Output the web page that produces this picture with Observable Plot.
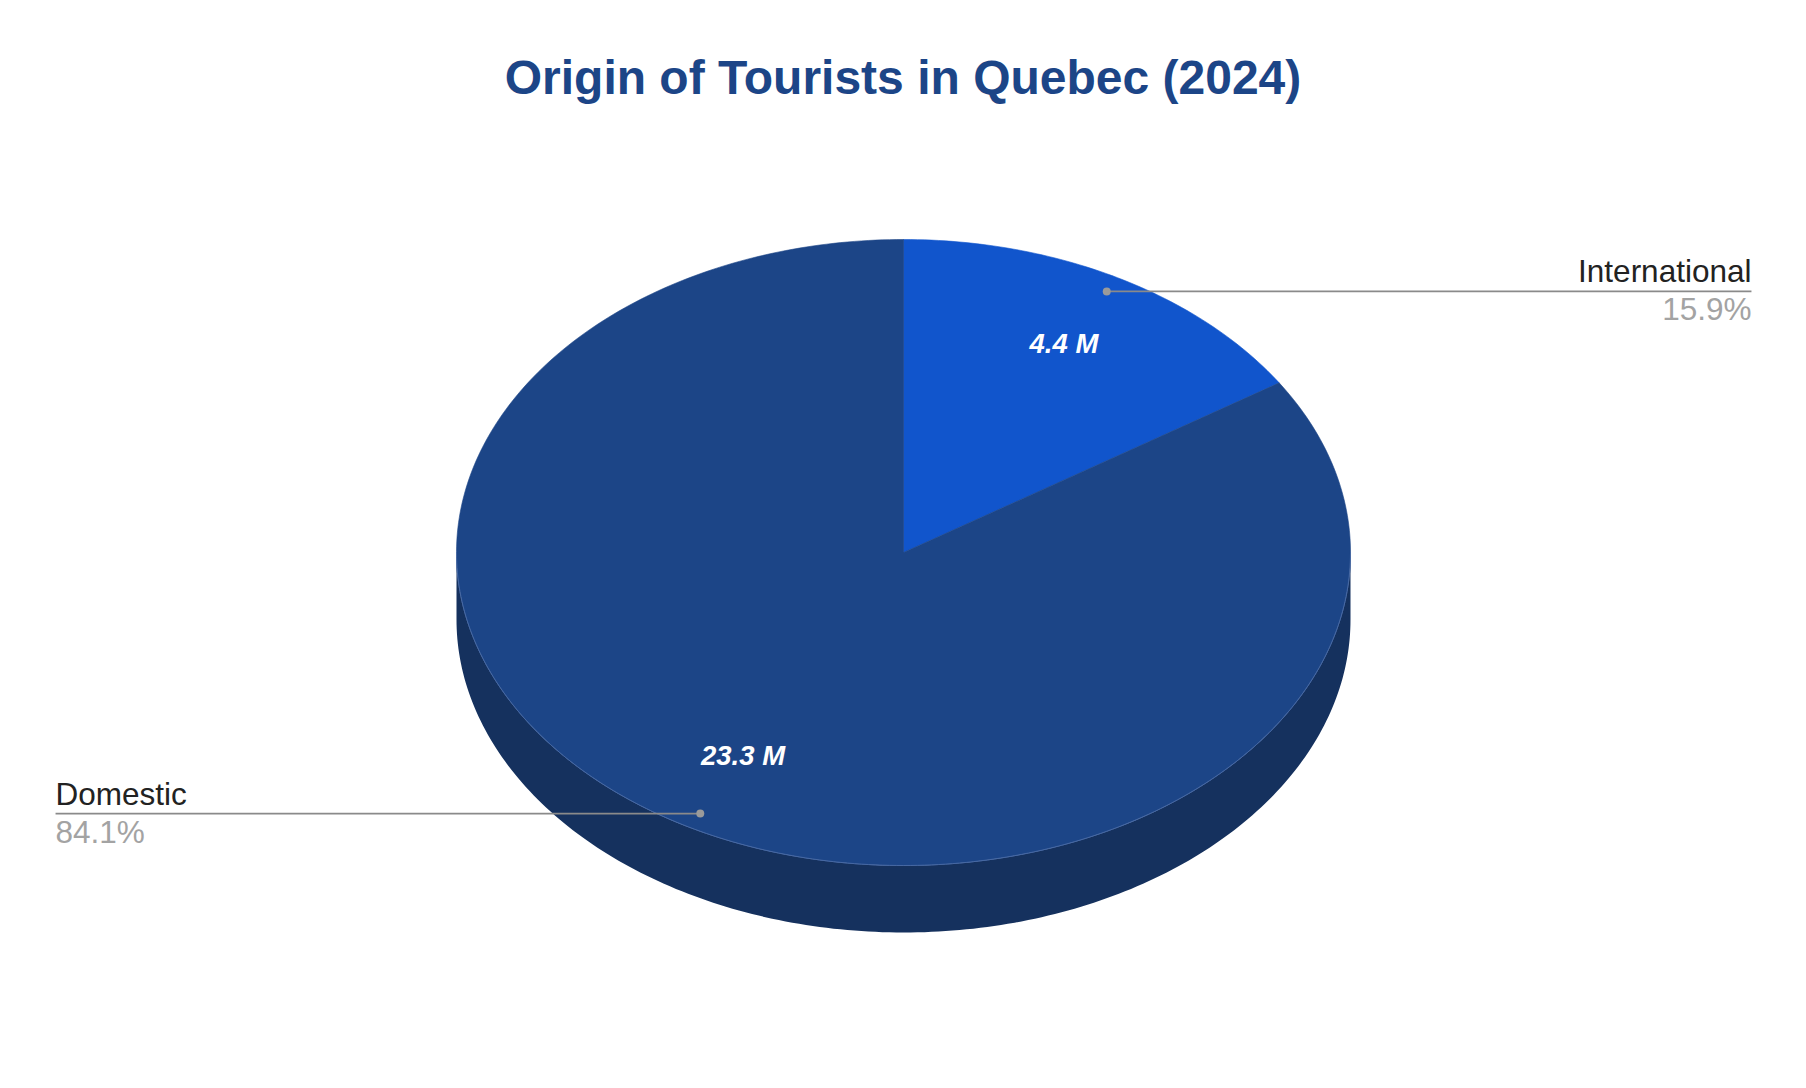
<!DOCTYPE html>
<html>
<head>
<meta charset="utf-8">
<script src="https://cdn.jsdelivr.net/npm/d3@7"></script>
<script src="https://cdn.jsdelivr.net/npm/@observablehq/plot@0.6"></script>
<style>
  html, body { margin: 0; padding: 0; background: #fff; }
  body { width: 1806px; height: 1088px; overflow: hidden; font-family: "Liberation Sans", Arial, sans-serif; }
  #title { position: relative; height: 120px; }
  #title span { position: absolute; left: 0; right: 0; top: 54px; text-align: center; font-size: 48px; line-height: 48px; font-weight: bold; color: #1c4587; }
  #chart svg { display: block; overflow: visible; }
</style>
</head>
<body>
<div id="title"><span>Origin of Tourists in Quebec (2024)</span></div>
<div id="chart"></div>
<script>
// ---- Data ----
const categories = ["International", "Domestic"];
const values = [4.4, 23.3];            // millions of tourists
const valueLabels = ["4.4 M", "23.3 M"];
const percentLabels = ["15.9%", "84.1%"];

// ---- Styles ----
const sliceColors = ["#1155cc", "#1c4587"];
const sideColor = "#15315e";
const depth = 0.214;     // pie thickness, in ellipse-radius units (y)
const labelReach = 1.897; // callout line end, in ellipse-radius units (x)

// ---- Geometry from data ----
const total = d3.sum(values);
let acc = 0;
const slices = categories.map((name, i) => {
  const a0 = acc / total * 2 * Math.PI;
  acc += values[i];
  const a1 = acc / total * 2 * Math.PI;
  return {name, a0, a1, mid: (a0 + a1) / 2, value: values[i], valueLabel: valueLabels[i], pct: percentLabels[i]};
});

function arcPts(a0, a1, n, dy = 0) {
  const pts = [];
  for (let k = 0; k <= n; k++) {
    const a = a0 + (a1 - a0) * k / n;
    pts.push({x: Math.sin(a), y: Math.cos(a) - dy});
  }
  return pts;
}

// top faces
const topPts = [];
for (const s of slices) {
  const n = Math.max(8, Math.ceil((s.a1 - s.a0) / (2 * Math.PI) * 400));
  topPts.push({name: s.name, x: 0, y: 0});
  for (const p of arcPts(s.a0, s.a1, n)) topPts.push({name: s.name, ...p});
  topPts.push({name: s.name, x: 0, y: 0});
}

// visible side (front half, from 3 o'clock to 9 o'clock)
const front = arcPts(Math.PI / 2, 3 * Math.PI / 2, 200);
const sidePts = [...front, ...arcPts(3 * Math.PI / 2, Math.PI / 2, 200, depth)];

// callouts
const dotR = 0.95, valR = 0.75;
const callouts = slices.map(s => {
  const dx = Math.sin(s.mid) * dotR, dy = Math.cos(s.mid) * dotR;
  const side = Math.sign(Math.sin(s.mid));
  return {...s, dx, dy, ex: side * labelReach, anchor: side > 0 ? "end" : "start",
          vx: Math.sin(s.mid) * valR, vy: Math.cos(s.mid) * valR};
});

const font = "Liberation Sans, Arial, sans-serif";

const chart = Plot.plot({
  width: 1806,
  height: 968,
  margin: 0,
  style: {fontFamily: font, background: "white", overflow: "visible"},
  x: {domain: [-1, 1], range: [456, 1350], axis: null},
  y: {domain: [-1, 1], range: [745, 119], axis: null},
  color: {domain: categories, range: sliceColors},
  marks: [
    Plot.line(sidePts, {x: "x", y: "y", fill: sideColor, stroke: "none", curve: "linear"}),
    Plot.line(front, {x: "x", y: "y", stroke: "#5b78b0", strokeWidth: 1, strokeOpacity: 0.7}),
    Plot.line(topPts, {x: "x", y: "y", z: "name", fill: "name", stroke: "name", strokeWidth: 0.6, curve: "linear"}),
    Plot.line(front, {x: "x", y: "y", stroke: "#4e6ea8", strokeWidth: 1, strokeOpacity: 0.8}),
    Plot.text(callouts, {x: "vx", y: "vy", text: "valueLabel", dy: -2, fill: "white", fontSize: 27.5, fontWeight: "bold", fontStyle: "italic", fontFamily: font}),
    Plot.link(callouts, {x1: "dx", y1: "dy", x2: "ex", y2: "dy", stroke: "#8a8a8a", strokeWidth: 1.6}),
    Plot.dot(callouts, {x: "dx", y: "dy", r: 4, fill: "#9a9a9a", stroke: "none"}),
    Plot.text(callouts, {x: "ex", y: "dy", text: "name", textAnchor: "end", filter: d => d.anchor === "end", lineAnchor: "bottom", dy: -9, fill: "#222222", fontSize: 31.5, fontFamily: font}),
    Plot.text(callouts, {x: "ex", y: "dy", text: "name", textAnchor: "start", filter: d => d.anchor === "start", lineAnchor: "bottom", dy: -9, fill: "#222222", fontSize: 31.5, fontFamily: font}),
    Plot.text(callouts, {x: "ex", y: "dy", text: "pct", textAnchor: "end", filter: d => d.anchor === "end", lineAnchor: "bottom", dy: 29, fill: "#a3a3a3", fontSize: 31.5, fontFamily: font}),
    Plot.text(callouts, {x: "ex", y: "dy", text: "pct", textAnchor: "start", filter: d => d.anchor === "start", lineAnchor: "bottom", dy: 29, fill: "#a3a3a3", fontSize: 31.5, fontFamily: font})
  ]
});
document.getElementById("chart").appendChild(chart);
</script>
</body>
</html>
